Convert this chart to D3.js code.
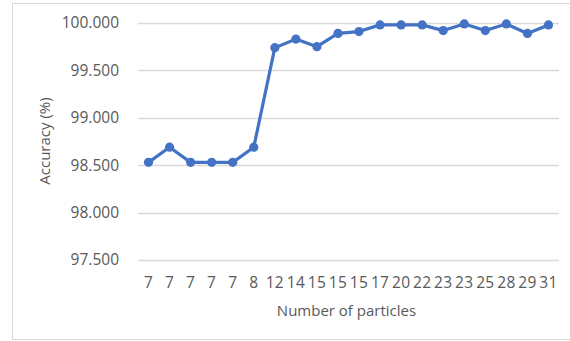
<!DOCTYPE html>
<html>
<head>
<meta charset="utf-8">
<script src="https://cdn.jsdelivr.net/npm/d3@7"></script>
<style>
  body { margin: 0; background: #fff; }
  svg text { font-family: 'Open Sans', sans-serif; fill: #595959; }
</style>
</head>
<body>
<div id="chart"></div>
<script>
// x categories (number of particles) and accuracy values
var particles = ['7', '7', '7', '7', '7', '8', '12', '14', '15', '15', '15', '17', '20', '22', '23', '23', '25', '28', '29', '31'];
var accuracy = [98.53, 98.69, 98.53, 98.53, 98.53, 98.69, 99.74, 99.83, 99.75, 99.89, 99.91, 99.98, 99.98, 99.98, 99.92, 99.99, 99.92, 99.99, 99.89, 99.98];
var yTicks = [97.5, 98.0, 98.5, 99.0, 99.5, 100.0];

var W = 570, H = 341;
var margin = {top: 23, right: 11, bottom: 81, left: 138},
    width = W - margin.left - margin.right,
    height = H - margin.top - margin.bottom;

var data = particles.map(function(p, i) { return {key: i, label: p, value: accuracy[i]}; });

var svg = d3.select('#chart').append('svg')
    .attr('width', W)
    .attr('height', H);

// chart frame
svg.append('rect')
    .attr('x', 12.5).attr('y', 3.5)
    .attr('width', W).attr('height', H - 5)
    .attr('fill', 'none')
    .attr('stroke', '#d9d9d9');

var g = svg.append('g')
    .attr('transform', 'translate(' + margin.left + ',' + margin.top + ')');

var x = d3.scaleBand().domain(data.map(function(d) { return d.key; })).range([0, width]);
var y = d3.scaleLinear().domain([97.5, 100]).range([height, 0]);

// gridlines
g.selectAll('.grid')
    .data(yTicks)
    .enter().append('line')
    .attr('class', 'grid')
    .attr('x1', 0).attr('x2', width)
    .attr('y1', function(d) { return Math.round(y(d)) + 0.5; })
    .attr('y2', function(d) { return Math.round(y(d)) + 0.5; })
    .attr('stroke', '#d9d9d9')
    .attr('stroke-width', 1.5);

// y axis
var yAxis = g.append('g')
    .call(d3.axisLeft(y).tickValues(yTicks).tickFormat(d3.format('.3f')).tickSize(0).tickPadding(19));
yAxis.select('.domain').remove();
yAxis.selectAll('text').style('font-size', '15.5px');

// x axis
var xAxis = g.append('g')
    .attr('transform', 'translate(0,' + height + ')')
    .call(d3.axisBottom(x).tickFormat(function(k) { return particles[k]; }).tickSize(0).tickPadding(17));
xAxis.select('.domain').remove();
xAxis.selectAll('text').style('font-size', '15.5px').style('letter-spacing', '0.3px');

// axis titles
svg.append('text')
    .attr('x', margin.left + width / 2 - 2)
    .attr('y', 316)
    .attr('text-anchor', 'middle')
    .style('font-size', '15px')
    .text('Number of particles');

svg.append('text')
    .attr('transform', 'translate(50,141) rotate(-90)')
    .attr('text-anchor', 'middle')
    .style('font-size', '15px')
    .text('Accuracy (%)');

// line + markers
var line = d3.line()
    .x(function(d) { return x(d.key) + x.bandwidth() / 2; })
    .y(function(d) { return y(d.value); });

g.append('path')
    .datum(data)
    .attr('d', line)
    .attr('fill', 'none')
    .attr('stroke', '#4472c4')
    .attr('stroke-width', 3.2)
    .attr('stroke-linejoin', 'round');

g.selectAll('.dot')
    .data(data)
    .enter().append('circle')
    .attr('class', 'dot')
    .attr('cx', function(d) { return x(d.key) + x.bandwidth() / 2; })
    .attr('cy', function(d) { return y(d.value); })
    .attr('r', 4.6)
    .attr('fill', '#4472c4');
</script>
</body>
</html>
